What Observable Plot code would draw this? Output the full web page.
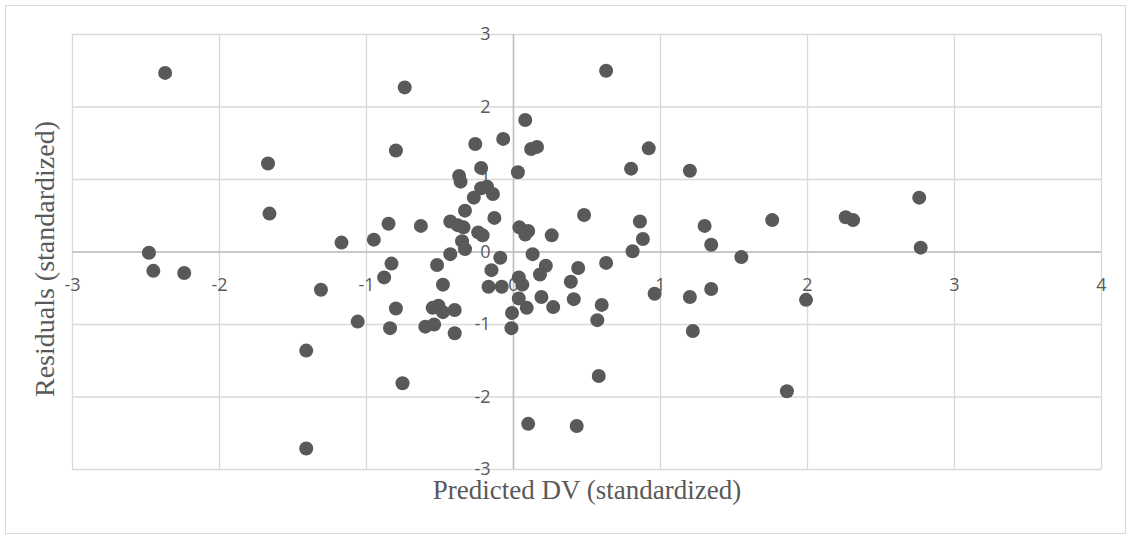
<!DOCTYPE html>
<html>
<head>
<meta charset="utf-8">
<script src="https://cdn.jsdelivr.net/npm/d3@7"></script>
<script src="https://cdn.jsdelivr.net/npm/@observablehq/plot@0.6"></script>
<style>
  html, body { margin: 0; padding: 0; background: #fff; }
  #wrap { position: relative; width: 1131px; height: 538px; }
  #border { position: absolute; left: 5px; top: 5px; width: 1119px; height: 527px; border: 1px solid #d9d9d9; pointer-events: none; }
</style>
</head>
<body>
<div id="wrap"><div id="border"></div></div>
<script>
const predicted = [
  -2.37, 0.63, -0.74, 0.08, -0.07, -0.26, -0.80, 0.12, 0.16, 0.92,
  -1.67, -0.22, 0.03, 0.80, 1.20, -0.37, -0.36, -0.18, -0.22, -0.14,
  -0.27, 2.76, -0.33, -1.66, 0.48, -0.13, 1.76, 2.26, 2.31, -0.85,
  -0.63, -0.43, -0.38, -0.34, 0.86, 1.30, 0.04, 0.10, 0.08, -0.24,
  -0.21, 0.26, 0.88, -1.17, -0.95, -0.35, -0.33, 1.345, 2.77, 0.81,
  -2.48, -0.43, 0.13, -0.09, 1.55, -0.83, -0.52, 0.22, 0.63, 0.44,
  -2.45, -2.24, -0.15, 0.18, -0.88, 0.036, 0.39, -1.31, -0.48, -0.17,
  -0.08, 0.06, 1.345, 0.96, 0.036, 0.19, 1.20, 1.99, 0.41, 0.60,
  -0.80, -0.55, -0.51, -0.48, -0.40, 0.09, 0.27, -0.01, -1.06, 0.57,
  -0.84, -0.60, -0.54, -0.40, -0.014, 1.22, -1.41, 0.58, -0.755, 1.86,
  0.10, 0.43, -1.41
];
const residuals = [
  2.47, 2.50, 2.27, 1.82, 1.56, 1.49, 1.40, 1.42, 1.45, 1.43,
  1.22, 1.16, 1.10, 1.15, 1.12, 1.05, 0.97, 0.90, 0.88, 0.80,
  0.75, 0.75, 0.57, 0.53, 0.51, 0.47, 0.44, 0.48, 0.44, 0.39,
  0.36, 0.42, 0.37, 0.34, 0.42, 0.36, 0.34, 0.29, 0.24, 0.27,
  0.23, 0.23, 0.18, 0.13, 0.17, 0.15, 0.04, 0.10, 0.06, 0.01,
  -0.01, -0.03, -0.03, -0.08, -0.07, -0.16, -0.18, -0.19, -0.15, -0.22,
  -0.26, -0.29, -0.25, -0.31, -0.35, -0.35, -0.41, -0.52, -0.45, -0.48,
  -0.48, -0.45, -0.51, -0.575, -0.64, -0.62, -0.62, -0.66, -0.65, -0.73,
  -0.78, -0.77, -0.74, -0.83, -0.80, -0.77, -0.76, -0.84, -0.96, -0.94,
  -1.05, -1.03, -1.00, -1.12, -1.05, -1.09, -1.36, -1.71, -1.81, -1.92,
  -2.37, -2.40, -2.71
];
const xTicks = [-3, -2, -1, 0, 1, 2, 3, 4];
const yTicks = [-3, -2, -1, 0, 1, 2, 3];
const xTitle = "Predicted DV (standardized)";
const yTitle = "Residuals (standardized)";

const points = predicted.map((x, i) => ({x, y: residuals[i]}));

const tickFont = "'Open Sans', 'Liberation Sans', sans-serif";
const titleFont = "'Liberation Serif', 'DejaVu Serif', serif";
const gray = "#595959";

const chart = Plot.plot({
  width: 1131,
  height: 538,
  marginLeft: 72,
  marginRight: 30,
  marginTop: 34,
  marginBottom: 69,
  x: {domain: [-3, 4], axis: null},
  y: {domain: [-3, 3], axis: null},
  style: {background: "transparent", overflow: "visible"},
  marks: [
    Plot.ruleX(xTicks, {stroke: "#d9d9d9", strokeWidth: 1.3}),
    Plot.ruleY(yTicks, {stroke: "#d9d9d9", strokeWidth: 1.3}),
    Plot.ruleX([0], {stroke: "#bfbfbf", strokeWidth: 1.5}),
    Plot.ruleY([0], {stroke: "#bfbfbf", strokeWidth: 1.5}),
    Plot.text(xTicks, {x: d => d, y: 0, dy: 33, text: d => String(d), fill: gray, fontSize: 18, fontFamily: tickFont, textAnchor: "middle"}),
    Plot.text(yTicks, {x: 0, y: d => d, dx: -23, text: d => String(d), fill: gray, fontSize: 18, fontFamily: tickFont, textAnchor: "end"}),
    Plot.dot(points, {x: "x", y: "y", r: 7, fill: gray, stroke: "none"}),
    Plot.text([xTitle], {frameAnchor: "bottom", dy: 29, lineAnchor: "bottom", textAnchor: "middle", text: d => d, fill: gray, fontSize: 27, fontFamily: titleFont}),
    Plot.text([yTitle], {frameAnchor: "left", dx: -19, dy: 7, rotate: -90, lineAnchor: "bottom", textAnchor: "middle", text: d => d, fill: gray, fontSize: 28, fontFamily: titleFont})
  ]
});
document.getElementById("wrap").prepend(chart);
</script>
</body>
</html>
